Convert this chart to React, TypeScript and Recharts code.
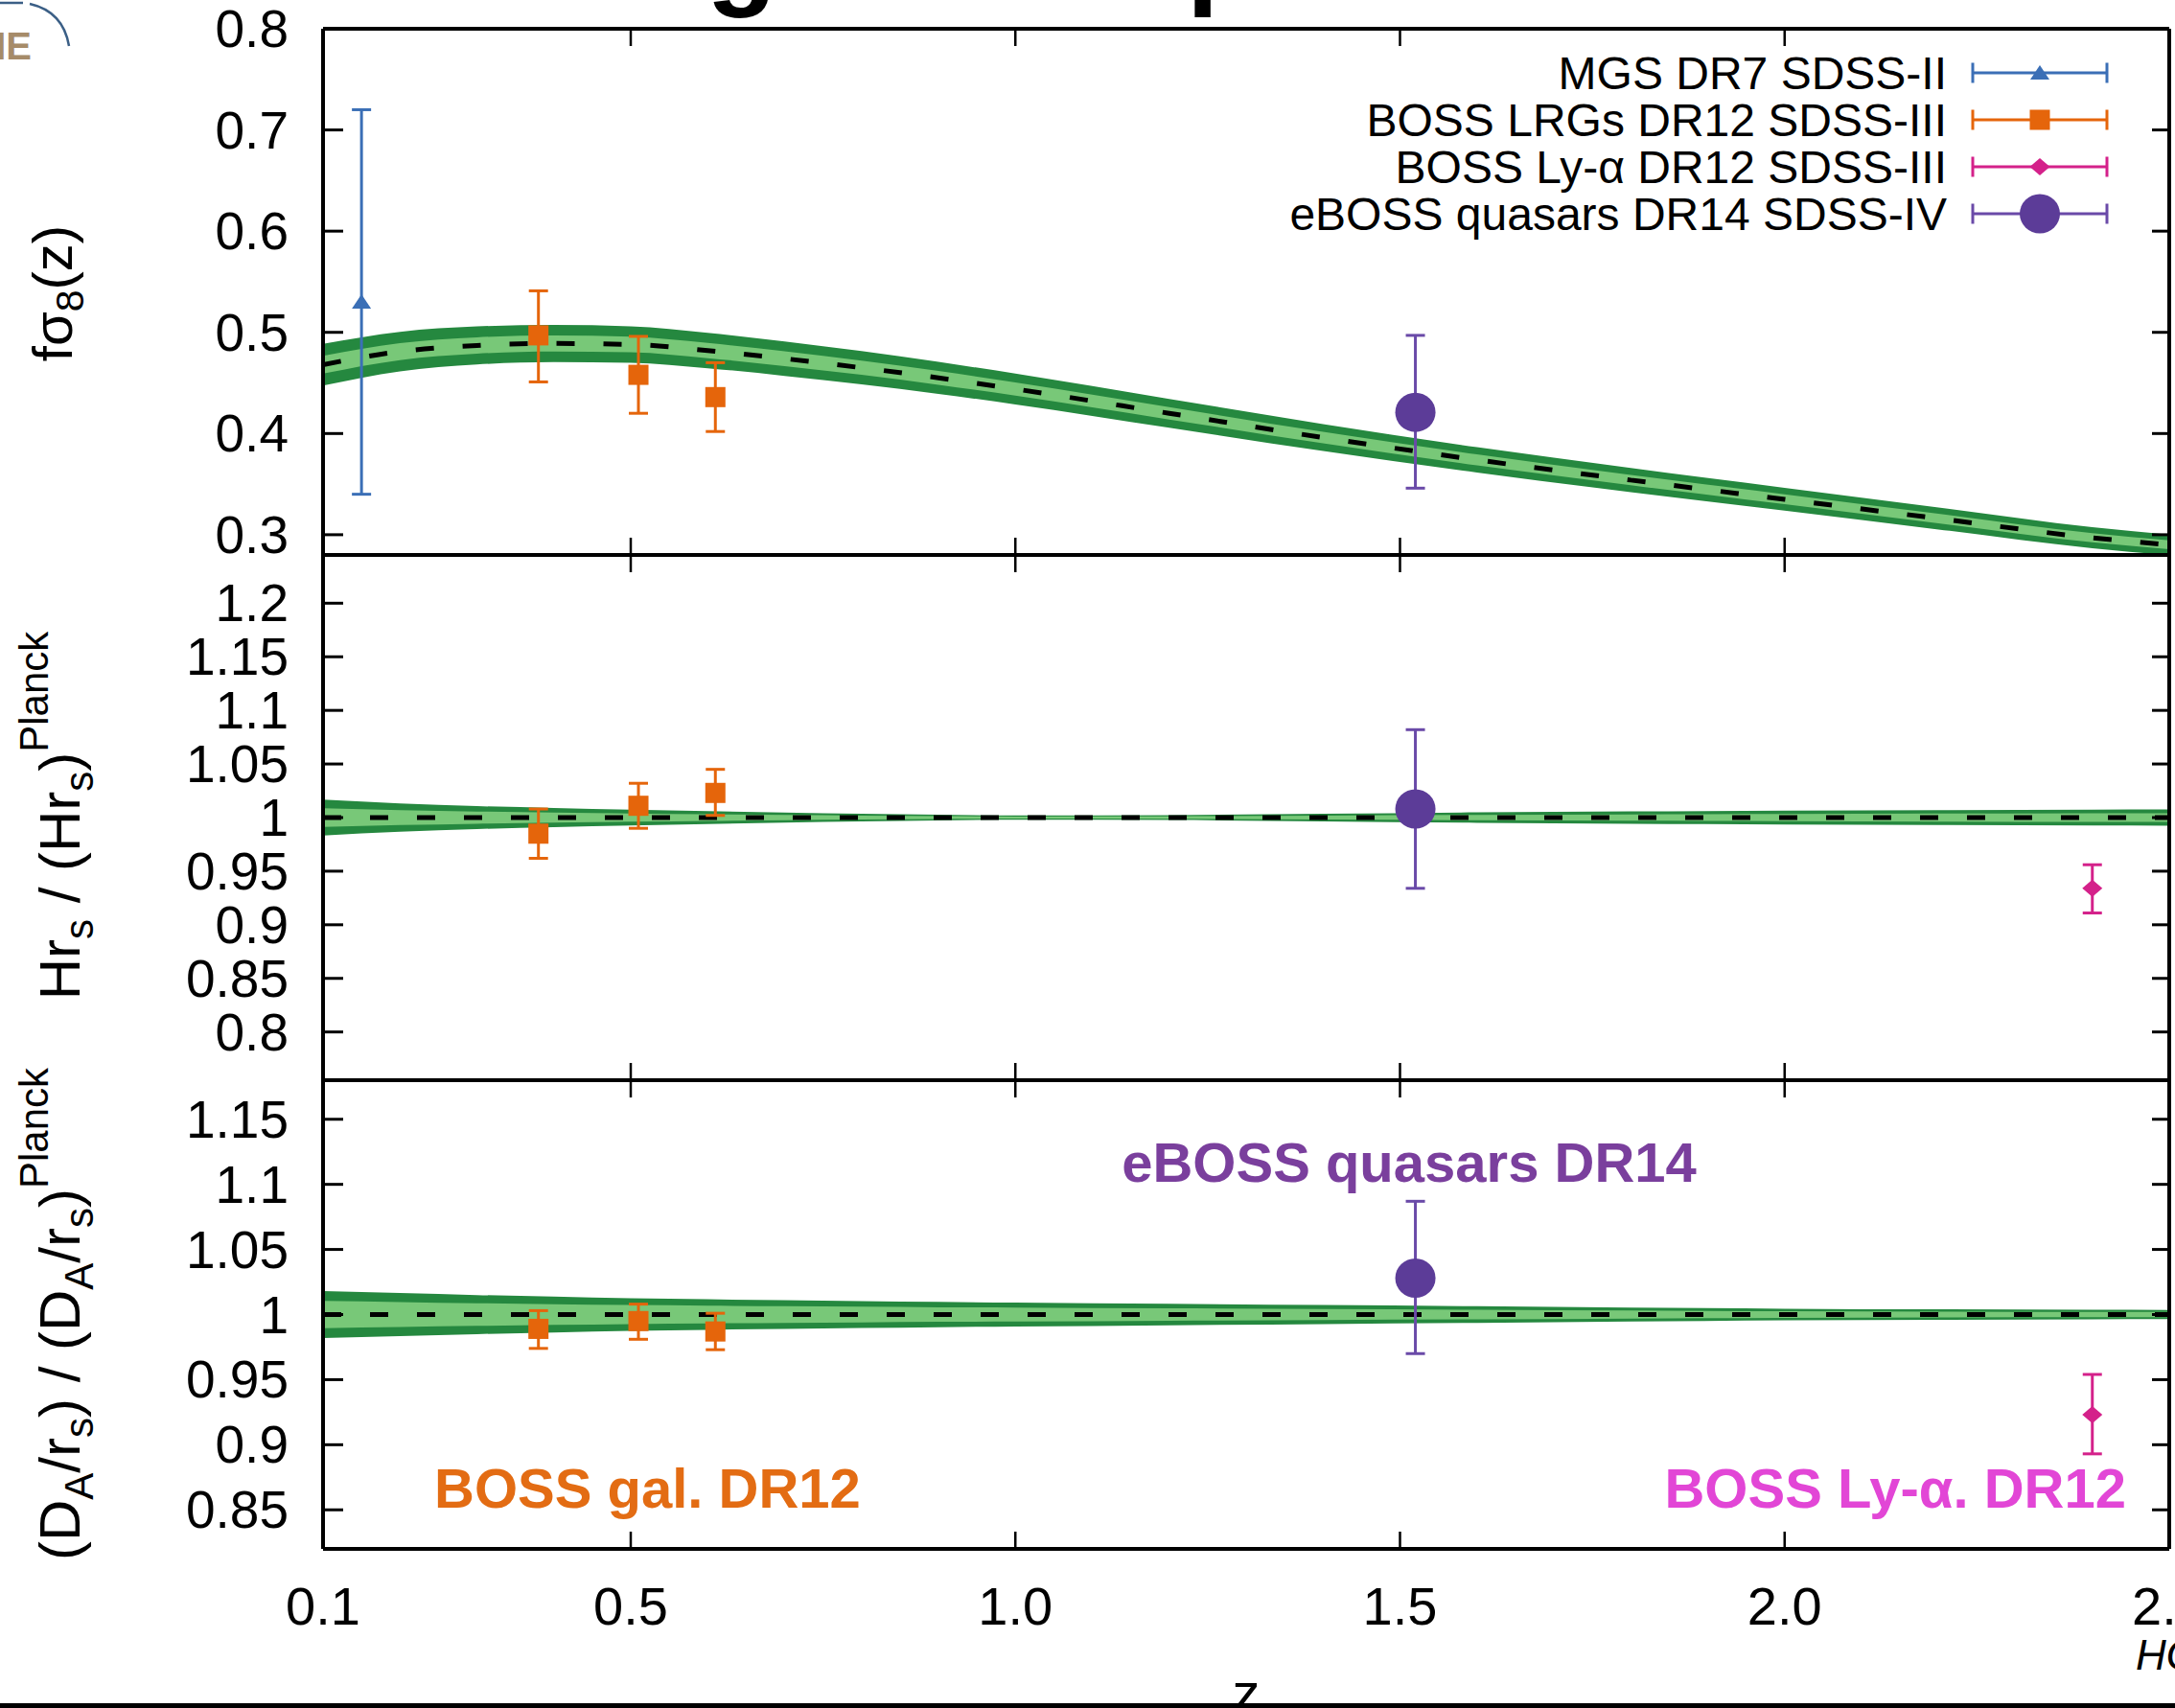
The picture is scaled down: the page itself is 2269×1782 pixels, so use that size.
import React from "react";
import {
  Area,
  ComposedChart,
  ErrorBar,
  Line,
  Scatter,
  XAxis,
  YAxis,
} from "recharts";

const FONT = "'Liberation Sans', Arial, Helvetica, sans-serif";

// model band samples: redshift, centre and half-widths of the outer / inner band
const zModel = [0.1, 0.2, 0.3, 0.4, 0.5, 0.6, 0.7, 0.8, 0.9, 1.0, 1.2, 1.4, 1.6, 1.8, 2.0, 2.2, 2.4, 2.5];

const fsMid = [0.468, 0.481, 0.487, 0.489, 0.488, 0.482, 0.474, 0.465, 0.455, 0.444, 0.42, 0.396, 0.374, 0.354, 0.335, 0.316, 0.297, 0.29];
const fsOuter = [0.0205, 0.0195, 0.0188, 0.0184, 0.018, 0.0175, 0.017, 0.0164, 0.0158, 0.0152, 0.0142, 0.0133, 0.0125, 0.0119, 0.0113, 0.0108, 0.0104, 0.0102];
const fsInner = [0.0088, 0.0084, 0.0081, 0.0079, 0.0077, 0.0075, 0.0073, 0.007, 0.0068, 0.0065, 0.0061, 0.0057, 0.0054, 0.0051, 0.0049, 0.0047, 0.0045, 0.0044];

const hMid = [1, 1, 1, 1, 1, 1, 1, 1, 1, 1, 1, 1, 1, 1, 1, 1, 1, 1];
const hOuter = [0.0168, 0.0133, 0.0107, 0.009, 0.0074, 0.006, 0.0046, 0.0035, 0.0026, 0.0021, 0.0023, 0.0036, 0.0049, 0.0058, 0.0064, 0.0069, 0.0074, 0.0076];
const hInner = [0.0088, 0.007, 0.0057, 0.0047, 0.0039, 0.0031, 0.0024, 0.0018, 0.0013, 0.001, 0.0011, 0.0018, 0.0025, 0.003, 0.0034, 0.0037, 0.004, 0.0041];

const dMid = [1, 1, 1, 1, 1, 1, 1, 1, 1, 1, 1, 1, 1, 1, 1, 1, 1, 1];
const dOuter = [0.018, 0.0165, 0.015, 0.0138, 0.0125, 0.0117, 0.011, 0.0103, 0.0097, 0.0092, 0.0082, 0.0073, 0.0064, 0.0054, 0.0045, 0.004, 0.0036, 0.0035];
const dInner = [0.0105, 0.0096, 0.0087, 0.008, 0.0073, 0.0068, 0.0064, 0.006, 0.0056, 0.0053, 0.0047, 0.0042, 0.0037, 0.0031, 0.0026, 0.0023, 0.0021, 0.002];

// measurements: value, lower and upper end of the error bar
const mgsZ = [0.15];
const mgsFs = [0.53];
const mgsFsLo = [0.34];
const mgsFsHi = [0.72];

const lrgZ = [0.38, 0.51, 0.61];
const lrgFs = [0.497, 0.458, 0.436];
const lrgFsLo = [0.451, 0.42, 0.402];
const lrgFsHi = [0.541, 0.496, 0.47];
const lrgH = [0.985, 1.011, 1.023];
const lrgHLo = [0.962, 0.99, 1.002];
const lrgHHi = [1.008, 1.032, 1.045];
const lrgD = [0.989, 0.995, 0.987];
const lrgDLo = [0.974, 0.981, 0.973];
const lrgDHi = [1.003, 1.008, 1.001];

const qsoZ = [1.52];
const qsoFs = [0.421];
const qsoFsLo = [0.346];
const qsoFsHi = [0.497];
const qsoH = [1.008];
const qsoHLo = [0.934];
const qsoHHi = [1.082];
const qsoD = [1.028];
const qsoDLo = [0.97];
const qsoDHi = [1.087];

const lyaZ = [2.4];
const lyaH = [0.934];
const lyaHLo = [0.911];
const lyaHHi = [0.956];
const lyaD = [0.923];
const lyaDLo = [0.893];
const lyaDHi = [0.954];

const xTicks = [0.1, 0.5, 1.0, 1.5, 2.0, 2.5];
const fsTicks = [0.3, 0.4, 0.5, 0.6, 0.7, 0.8];
const hTicks = [0.8, 0.85, 0.9, 0.95, 1, 1.05, 1.1, 1.15, 1.2];
const dTicks = [0.85, 0.9, 0.95, 1, 1.05, 1.1, 1.15];

const legendNames = [
  "MGS DR7 SDSS-II",
  "BOSS LRGs DR12 SDSS-III",
  "BOSS Ly-\u03b1 DR12 SDSS-III",
  "eBOSS quasars DR14 SDSS-IV",
];

const BLUE = "#3b6fb6";
const ORANGE = "#e5650b";
const MAGENTA = "#d4218a";
const PURPLE = "#5c3c98";
const PURPLE_LINE = "#6a4aa8";
const DARK_GREEN = "#25883f";
const LIGHT_GREEN = "#78c878";

function modelRows(mid: number[], outer: number[], inner: number[]) {
  return zModel.map((z, i) => ({
    z,
    mid: mid[i],
    outer: [mid[i] - outer[i], mid[i] + outer[i]],
    inner: [mid[i] - inner[i], mid[i] + inner[i]],
  }));
}

function pointRows(zs: number[], vs: number[], lo: number[], hi: number[]) {
  return zs.map((z, i) => ({ z, v: vs[i], err: [vs[i] - lo[i], hi[i] - vs[i]] }));
}

type ShapeName = "triangle" | "square" | "diamond" | "circle";

function Marker({ kind, cx, cy, color }: { kind: ShapeName; cx: number; cy: number; color: string }) {
  if (kind === "triangle")
    return <polygon points={`${cx - 10},${cy + 7} ${cx + 10},${cy + 7} ${cx},${cy - 8}`} fill={color} />;
  if (kind === "square")
    return <rect x={cx - 10.5} y={cy - 10.5} width={21} height={21} fill={color} />;
  if (kind === "diamond")
    return <polygon points={`${cx - 10.5},${cy} ${cx},${cy - 9} ${cx + 10.5},${cy} ${cx},${cy + 9}`} fill={color} />;
  return <ellipse cx={cx} cy={cy} rx={21} ry={20.5} fill={color} />;
}

const frame = { stroke: "#000", strokeWidth: 4 };

function LeftTick({ x, y, payload }: any) {
  return (
    <g>
      <line x1={x} x2={x + 21} y1={y} y2={y} stroke="#000" strokeWidth={3} />
      <text x={x - 36} y={y} textAnchor="end" dominantBaseline="central" fontFamily={FONT} fontSize={55} fill="#000">
        {String(payload.value)}
      </text>
    </g>
  );
}

function RightTick({ x, y }: any) {
  return <line x1={x - 18} x2={x} y1={y} y2={y} stroke="#000" strokeWidth={3} />;
}

function TopTick({ x, y }: any) {
  return <line x1={x} x2={x} y1={y} y2={y + 18} stroke="#000" strokeWidth={2.5} />;
}

function BottomTick({ x, y }: any) {
  return <line x1={x} x2={x} y1={y - 18} y2={y} stroke="#000" strokeWidth={2.5} />;
}

function BottomTickLabel({ x, y, payload }: any) {
  return (
    <g>
      <line x1={x} x2={x} y1={y - 18} y2={y} stroke="#000" strokeWidth={2.5} />
      <text x={x} y={y + 59} textAnchor="middle" dominantBaseline="central" fontFamily={FONT} fontSize={56} fill="#000">
        {Number(payload.value).toFixed(1)}
      </text>
    </g>
  );
}

type Series = {
  rows: { z: number; v: number; err: number[] }[];
  kind: ShapeName;
  color: string;
  line: string;
};

function Panel({
  top,
  height,
  marginTop,
  marginBottom,
  xAxisHeight,
  domain,
  ticks,
  model,
  series,
  labelled,
}: {
  top: number;
  height: number;
  marginTop: number;
  marginBottom: number;
  xAxisHeight: number;
  domain: [number, number];
  ticks: number[];
  model: any[];
  series: Series[];
  labelled: boolean;
}) {
  return (
    <div style={{ position: "absolute", left: 0, top }}>
      <ComposedChart
        width={2269}
        height={height}
        data={model}
        margin={{ top: marginTop, right: 0, bottom: marginBottom, left: 0 }}
      >
        <Area
          dataKey="outer"
          type="monotone"
          stroke="none"
          fill={DARK_GREEN}
          fillOpacity={1}
          dot={false}
          activeDot={false}
          isAnimationActive={false}
        />
        <Area
          dataKey="inner"
          type="monotone"
          stroke="none"
          fill={LIGHT_GREEN}
          fillOpacity={1}
          dot={false}
          activeDot={false}
          isAnimationActive={false}
        />
        <Line
          dataKey="mid"
          type="monotone"
          stroke="#000"
          strokeWidth={5}
          strokeDasharray="19 30"
          dot={false}
          activeDot={false}
          isAnimationActive={false}
        />
        <XAxis
          dataKey="z"
          type="number"
          domain={[0.1, 2.5]}
          ticks={xTicks}
          interval={0}
          allowDataOverflow
          height={xAxisHeight}
          tickSize={0}
          tickMargin={0}
          tickLine={false}
          axisLine={frame}
          tick={labelled ? BottomTickLabel : BottomTick}
        />
        <XAxis
          xAxisId="top"
          orientation="top"
          dataKey="z"
          type="number"
          domain={[0.1, 2.5]}
          ticks={xTicks}
          interval={0}
          allowDataOverflow
          height={1}
          tickSize={0}
          tickMargin={0}
          tickLine={false}
          axisLine={frame}
          tick={TopTick}
        />
        <YAxis
          type="number"
          domain={domain}
          ticks={ticks}
          interval={0}
          allowDataOverflow
          width={337}
          tickSize={0}
          tickMargin={0}
          tickLine={false}
          axisLine={frame}
          tick={LeftTick}
        />
        <YAxis
          yAxisId="right"
          orientation="right"
          type="number"
          domain={domain}
          ticks={ticks}
          interval={0}
          allowDataOverflow
          width={6}
          tickSize={0}
          tickMargin={0}
          tickLine={false}
          axisLine={frame}
          tick={RightTick}
        />
        {series.map((s, i) => (
          <Scatter
            key={i}
            data={s.rows}
            dataKey="v"
            isAnimationActive={false}
            shape={(p: any) => <Marker kind={s.kind} cx={p.cx} cy={p.cy} color={s.color} />}
          >
            <ErrorBar dataKey="err" direction="y" width={10} stroke={s.line} strokeWidth={3} />
          </Scatter>
        ))}
      </ComposedChart>
    </div>
  );
}

const legendStyles: { kind: ShapeName; color: string; line: string }[] = [
  { kind: "triangle", color: BLUE, line: BLUE },
  { kind: "square", color: ORANGE, line: ORANGE },
  { kind: "diamond", color: MAGENTA, line: MAGENTA },
  { kind: "circle", color: PURPLE, line: PURPLE_LINE },
];

export default function App() {
  const fsModel = modelRows(fsMid, fsOuter, fsInner);
  const hModel = modelRows(hMid, hOuter, hInner);
  const dModel = modelRows(dMid, dOuter, dInner);

  const topSeries: Series[] = [
    { rows: pointRows(mgsZ, mgsFs, mgsFsLo, mgsFsHi), kind: "triangle", color: BLUE, line: BLUE },
    { rows: pointRows(lrgZ, lrgFs, lrgFsLo, lrgFsHi), kind: "square", color: ORANGE, line: ORANGE },
    { rows: pointRows(qsoZ, qsoFs, qsoFsLo, qsoFsHi), kind: "circle", color: PURPLE, line: PURPLE_LINE },
  ];
  const midSeries: Series[] = [
    { rows: pointRows(lrgZ, lrgH, lrgHLo, lrgHHi), kind: "square", color: ORANGE, line: ORANGE },
    { rows: pointRows(lyaZ, lyaH, lyaHLo, lyaHHi), kind: "diamond", color: MAGENTA, line: MAGENTA },
    { rows: pointRows(qsoZ, qsoH, qsoHLo, qsoHHi), kind: "circle", color: PURPLE, line: PURPLE_LINE },
  ];
  const lowSeries: Series[] = [
    { rows: pointRows(lrgZ, lrgD, lrgDLo, lrgDHi), kind: "square", color: ORANGE, line: ORANGE },
    { rows: pointRows(lyaZ, lyaD, lyaDLo, lyaDHi), kind: "diamond", color: MAGENTA, line: MAGENTA },
    { rows: pointRows(qsoZ, qsoD, qsoDLo, qsoDHi), kind: "circle", color: PURPLE, line: PURPLE_LINE },
  ];

  return (
    <div
      style={{
        position: "absolute",
        left: 0,
        top: 0,
        width: 2269,
        height: 1782,
        overflow: "hidden",
        background: "#fff",
      }}
    >
      <Panel
        top={0}
        height={600}
        marginTop={29}
        marginBottom={20}
        xAxisHeight={1}
        domain={[0.28, 0.8]}
        ticks={fsTicks}
        model={fsModel}
        series={topSeries}
        labelled={false}
      />
      <Panel
        top={550}
        height={600}
        marginTop={28}
        marginBottom={22}
        xAxisHeight={1}
        domain={[0.755, 1.245]}
        ticks={hTicks}
        model={hModel}
        series={midSeries}
        labelled={false}
      />
      <Panel
        top={1100}
        height={682}
        marginTop={26}
        marginBottom={0}
        xAxisHeight={166}
        domain={[0.82, 1.18]}
        ticks={dTicks}
        model={dModel}
        series={lowSeries}
        labelled={true}
      />

      <svg
        width={2269}
        height={1782}
        style={{ position: "absolute", left: 0, top: 0, pointerEvents: "none" }}
        fontFamily={FONT}
      >
        {/* corner logo and cut-off title */}
        <text x={33} y={62} textAnchor="end" fontSize={40} fontWeight="bold" fill="#a68b69">
          IE
        </text>
        <path d="M 0 3 L 24 3 M 31 4 Q 66 12 72 48" stroke="#3b5f86" strokeWidth={2.5} fill="none" />
        <text x={737} y={-7} fontSize={120} fontWeight="bold" fill="#000">
          g
        </text>
        <text x={1238} y={-7} fontSize={120} fontWeight="bold" fill="#000">
          p
        </text>

        {/* axis titles */}
        <text transform="translate(75,306) rotate(-90)" textAnchor="middle" fontSize={58} fill="#000">
          f{"\u03c3"}
          <tspan dy={12} fontSize={41}>8</tspan>
          <tspan dy={-12}>(z)</tspan>
        </text>
        <text transform="translate(83,851) rotate(-90)" textAnchor="middle" fontSize={60} fill="#000">
          Hr
          <tspan dy={14} fontSize={42}>s</tspan>
          <tspan dy={-14}>{" / (Hr"}</tspan>
          <tspan dy={14} fontSize={42}>s</tspan>
          <tspan dy={-14}>)</tspan>
          <tspan dy={-33} fontSize={42}>Planck</tspan>
        </text>
        <text transform="translate(83,1371) rotate(-90)" textAnchor="middle" fontSize={60} fill="#000">
          (D
          <tspan dy={14} fontSize={42}>A</tspan>
          <tspan dy={-14}>/r</tspan>
          <tspan dy={14} fontSize={42}>s</tspan>
          <tspan dy={-14}>{") / (D"}</tspan>
          <tspan dy={14} fontSize={42}>A</tspan>
          <tspan dy={-14}>/r</tspan>
          <tspan dy={14} fontSize={42}>s</tspan>
          <tspan dy={-14}>)</tspan>
          <tspan dy={-33} fontSize={42}>Planck</tspan>
        </text>

        {/* legend */}
        {legendNames.map((name, i) => {
          const cy = 76 + i * 49;
          const st = legendStyles[i];
          return (
            <g key={name}>
              <text x={2031} y={cy + 17} textAnchor="end" fontSize={48} fill="#000">
                {name}
              </text>
              <line x1={2058} x2={2198} y1={cy} y2={cy} stroke={st.line} strokeWidth={3} />
              <line x1={2058} x2={2058} y1={cy - 10.5} y2={cy + 10.5} stroke={st.line} strokeWidth={3} />
              <line x1={2198} x2={2198} y1={cy - 10.5} y2={cy + 10.5} stroke={st.line} strokeWidth={3} />
              <Marker kind={st.kind} cx={2128} cy={cy} color={st.color} />
            </g>
          );
        })}

        {/* survey annotations */}
        <text x={453} y={1573} fontSize={58} fontWeight="bold" fill="#e36c13">
          BOSS gal. DR12
        </text>
        <text x={1470} y={1233} textAnchor="middle" fontSize={58} fontWeight="bold" fill="#7a3f9d">
          eBOSS quasars DR14
        </text>
        <text x={2218} y={1573} textAnchor="end" fontSize={58} fontWeight="bold" fill="#e246d6">
          BOSS Ly-{"\u03b1"}. DR12
        </text>

        {/* x label, credit and bottom rule, all cut by the page edge */}
        <text x={1300} y={1786} textAnchor="middle" fontSize={58} fill="#000">
          z
        </text>
        <text x={2228} y={1742} fontSize={44} fontStyle="italic" fill="#000">
          HG
        </text>
        <rect x={0} y={1777} width={2269} height={5} fill="#000" />
      </svg>
    </div>
  );
}
